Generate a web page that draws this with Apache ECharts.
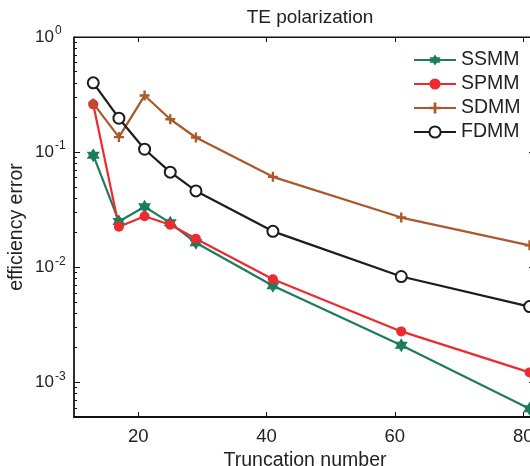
<!DOCTYPE html>
<html>
<head>
<meta charset="utf-8">
<script src="https://cdn.jsdelivr.net/npm/echarts@6/dist/echarts.min.js"></script>
<style>
html,body{margin:0;padding:0;background:#fff;}
#chart{width:530px;height:466px;}
</style>
</head>
<body>
<div id="chart"></div>
<script>
// ---- data ----
const truncation = [13, 17, 21, 25, 29, 41, 61, 81];
const ssmm = [0.094, 0.025, 0.0335, 0.0243, 0.0163, 0.0069, 0.0021, 0.00059];
const spmm = [0.26, 0.0225, 0.0277, 0.0234, 0.0177, 0.00785, 0.00277, 0.00122];
const sdmm = [0.265, 0.135, 0.31, 0.193, 0.134, 0.061, 0.027, 0.0155];
const fdmm = [0.40, 0.197, 0.106, 0.067, 0.046, 0.0205, 0.0083, 0.00455];
const xTicks = [20, 40, 60, 80];
const yTicks = [0.001, 0.01, 0.1, 1];
const yMinorTicks = [0.0006, 0.0007, 0.0008, 0.0009,
  0.002, 0.003, 0.004, 0.005, 0.006, 0.007, 0.008, 0.009,
  0.02, 0.03, 0.04, 0.05, 0.06, 0.07, 0.08, 0.09,
  0.2, 0.3, 0.4, 0.5, 0.6, 0.7, 0.8, 0.9];

const TXT = '#222';
const FONT = 'Liberation Sans, Arial, Helvetica, sans-serif';
const starPath = 'path://M50 0 L35.6 25 L6.7 25 L21.1 50 L6.7 75 L35.6 75 L50 100 L64.4 75 L93.3 75 L78.9 50 L93.3 25 L64.4 25 Z';
const plusPath = 'path://M38 0 L62 0 L62 38 L100 38 L100 62 L62 62 L62 100 L38 100 L38 62 L0 62 L0 38 L38 38 Z';

function pairs(ys) { return truncation.map((x, i) => [x, ys[i]]); }

const chart = echarts.init(document.getElementById('chart'));

const yLabel = {
  show: true,
  customValues: yTicks,
  align: 'left',
  margin: 39,
  formatter: function (v) {
    const e = Math.round(Math.log10(v));
    return '{b|10}{s|' + e + '}';
  },
  rich: {
    b: { fontSize: 17, fontFamily: FONT, color: TXT, lineHeight: 30, verticalAlign: 'middle' },
    s: { fontSize: 12, fontFamily: FONT, color: TXT, lineHeight: 30, verticalAlign: 'top', padding: [3, 0, 0, 1] }
  }
};

const option = {
  backgroundColor: '#fff',
  animation: false,
  title: {
    text: 'TE polarization',
    left: 305,
    top: 3,
    textAlign: 'center',
    textStyle: { fontSize: 19, fontWeight: 'normal', fontFamily: FONT, color: TXT }
  },
  legend: {
    orient: 'vertical',
    left: 413,
    top: 50,
    padding: 0,
    itemWidth: 42,
    itemHeight: 14,
    itemGap: 4,
    textStyle: { fontSize: 19.5, fontFamily: FONT, color: TXT, lineHeight: 20 },
    data: ['SSMM', 'SPMM', 'SDMM', 'FDMM']
  },
  grid: { left: 74, top: 37, width: 462, height: 380, containLabel: false, outerBoundsMode: 'none',
          show: true, borderColor: '#111', borderWidth: 1, backgroundColor: 'transparent' },
  xAxis: [
    {
      type: 'value', min: 10, max: 82, position: 'bottom',
      name: 'Truncation number', nameLocation: 'middle', nameGap: 26,
      nameTextStyle: { fontSize: 19.5, fontFamily: FONT, color: TXT },
      axisLine: { show: true, onZero: false, lineStyle: { color: '#111', width: 2 } },
      axisTick: { show: true, inside: true, length: 5, customValues: xTicks, lineStyle: { color: '#111', width: 1 } },
      axisLabel: { show: true, customValues: xTicks, fontSize: 18.5, fontFamily: FONT, color: TXT, margin: 10 },
      splitLine: { show: false }
    },
    {
      type: 'value', min: 10, max: 82, position: 'top',
      axisLine: { show: true, onZero: false, lineStyle: { color: '#111', width: 1 } },
      axisTick: { show: true, inside: true, length: 5, customValues: xTicks, lineStyle: { color: '#111', width: 1 } },
      axisLabel: { show: false },
      splitLine: { show: false }
    }
  ],
  yAxis: [
    {
      type: 'log', logBase: 10, min: 0.0005, max: 1, position: 'left',
      name: 'efficiency error', nameLocation: 'middle', nameGap: 47, nameMoveOverlap: false,
      nameTextStyle: { fontSize: 19.5, fontFamily: FONT, color: TXT },
      axisLine: { show: true, onZero: false, lineStyle: { color: '#111', width: 1.5 } },
      axisTick: { show: true, inside: true, length: 6, customValues: yTicks, lineStyle: { color: '#111', width: 1 } },
      axisLabel: yLabel,
      splitLine: { show: false }
    },
    {
      type: 'log', logBase: 10, min: 0.0005, max: 1, position: 'left',
      axisLine: { show: false, onZero: false },
      axisTick: { show: true, inside: true, length: 3, customValues: yMinorTicks, lineStyle: { color: '#111', width: 1 } },
      axisLabel: { show: false },
      splitLine: { show: false }
    },
    {
      type: 'log', logBase: 10, min: 0.0005, max: 1, position: 'right',
      axisLine: { show: true, onZero: false, lineStyle: { color: '#111', width: 1 } },
      axisTick: { show: true, inside: true, length: 7, customValues: yTicks, lineStyle: { color: '#111', width: 1 } },
      axisLabel: { show: false },
      splitLine: { show: false }
    }
  ],
  series: [
    {
      name: 'SSMM', type: 'line', xAxisIndex: 0, yAxisIndex: 0,
      data: pairs(ssmm),
      symbol: starPath, symbolSize: [13, 14],
      lineStyle: { color: '#1d7c5b', width: 2.2 },
      itemStyle: { color: '#1d7c5b' }
    },
    {
      name: 'SPMM', type: 'line', xAxisIndex: 0, yAxisIndex: 1,
      data: pairs(spmm),
      symbol: 'circle', symbolSize: 10,
      lineStyle: { color: '#ec2a30', width: 2.2 },
      itemStyle: { color: '#ec2a30' }
    },
    {
      name: 'SDMM', type: 'line', xAxisIndex: 1, yAxisIndex: 2,
      data: pairs(sdmm),
      symbol: plusPath, symbolSize: 10,
      lineStyle: { color: '#a9592b', width: 2.2 },
      itemStyle: { color: '#a9592b' }
    },
    {
      name: 'FDMM', type: 'line', xAxisIndex: 1, yAxisIndex: 0,
      data: pairs(fdmm),
      symbol: 'emptyCircle', symbolSize: 11,
      lineStyle: { color: '#1c1c1c', width: 2.2 },
      itemStyle: { color: '#1c1c1c', borderColor: '#1c1c1c', borderWidth: 2.2 }
    }
  ]
};
chart.setOption(option);
</script>
</body>
</html>
